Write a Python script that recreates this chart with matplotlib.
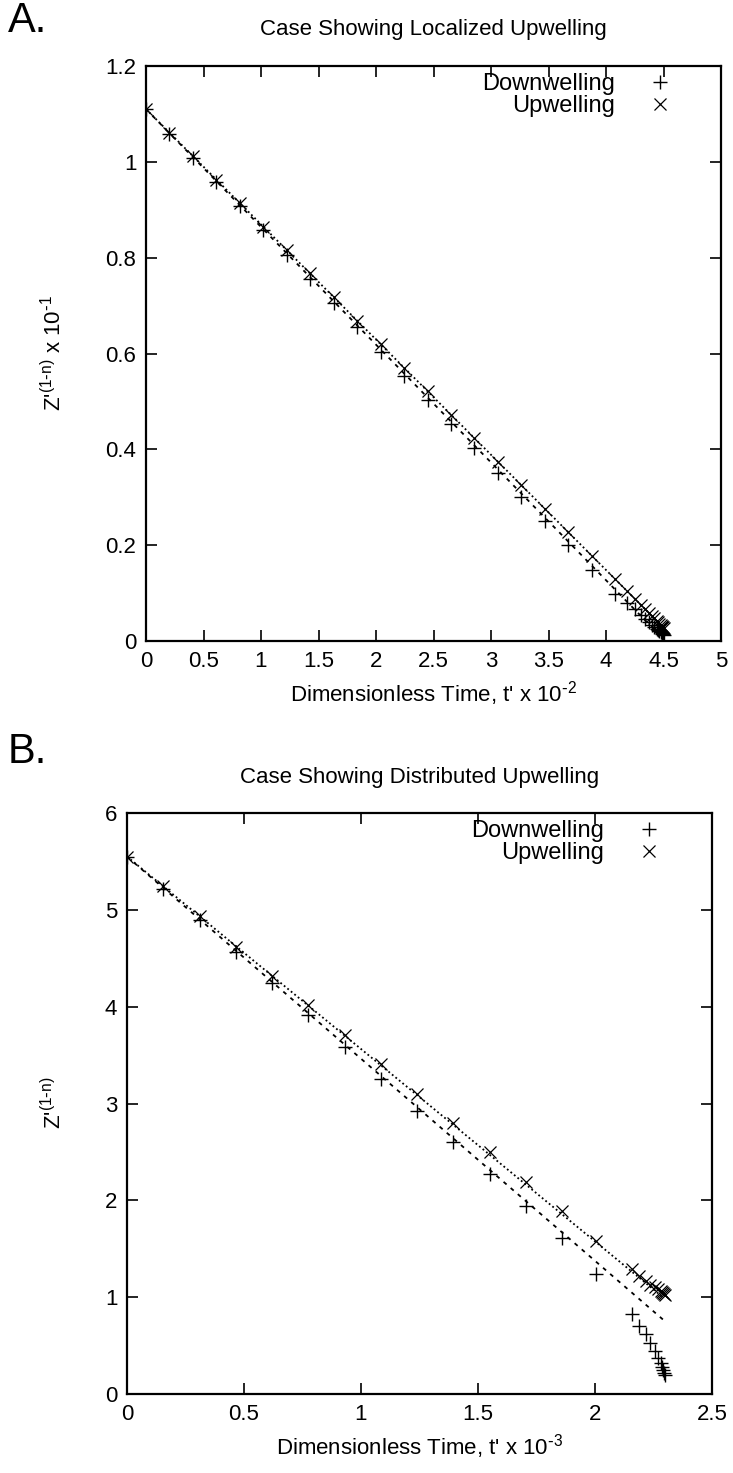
import matplotlib
matplotlib.use("Agg")
import matplotlib.pyplot as plt

plt.rcParams['font.family'] = ['Liberation Sans', 'DejaVu Sans']
plt.rcParams['mathtext.default'] = 'regular'

# ---------------- Panel A data ----------------
a_time = [0.0, 0.204, 0.408, 0.612, 0.816, 1.02, 1.224, 1.428, 1.632, 1.836,
          2.04, 2.244, 2.448, 2.652, 2.856, 3.06, 3.264, 3.468, 3.672, 3.876,
          4.08, 4.18, 4.25, 4.3, 4.34, 4.37, 4.40, 4.42, 4.44, 4.455,
          4.465, 4.475, 4.483, 4.49, 4.495, 4.5]
a_down = [1.11, 1.059, 1.009, 0.958, 0.908, 0.857, 0.806, 0.756, 0.705, 0.655,
          0.604, 0.553, 0.503, 0.452, 0.402, 0.351, 0.301, 0.25, 0.2, 0.149,
          0.099, 0.08, 0.066, 0.055, 0.046, 0.04, 0.034, 0.03, 0.026, 0.023,
          0.021, 0.019, 0.017, 0.015, 0.014, 0.013]
a_up = [1.11, 1.061, 1.012, 0.963, 0.914, 0.865, 0.816, 0.767, 0.717, 0.668,
        0.619, 0.57, 0.521, 0.472, 0.423, 0.374, 0.325, 0.276, 0.227, 0.178,
        0.129, 0.105, 0.088, 0.076, 0.066, 0.059, 0.052, 0.047, 0.042, 0.039,
        0.036, 0.034, 0.032, 0.03, 0.029, 0.028]
a_fit_t = [0.0, 4.5]
a_fit_down = [1.11, 0.004]
a_fit_up = [1.11, 0.028]

# ---------------- Panel B data ----------------
b_time = [0.0, 0.155, 0.31, 0.465, 0.62, 0.775, 0.93, 1.085, 1.24, 1.395,
          1.55, 1.705, 1.86, 2.005, 2.157, 2.19, 2.218, 2.235, 2.256, 2.27,
          2.28, 2.287, 2.292, 2.296, 2.3]
b_down = [5.55, 5.22, 4.89, 4.56, 4.24, 3.91, 3.58, 3.25, 2.92, 2.6,
          2.27, 1.94, 1.61, 1.24, 0.83, 0.7, 0.62, 0.53, 0.44, 0.37,
          0.32, 0.28, 0.25, 0.22, 0.2]
b_up = [5.55, 5.25, 4.94, 4.62, 4.32, 4.02, 3.71, 3.41, 3.1, 2.8,
        2.5, 2.19, 1.89, 1.58, 1.29, 1.22, 1.17, 1.13, 1.1, 1.08,
        1.06, 1.05, 1.04, 1.03, 1.02]
b_fit_t = [0.0, 2.29]
b_fit_down = [5.55, 0.77]
b_fit_up = [5.55, 1.0]

# ---------------- Axis settings ----------------
a_xticks = [0, 0.5, 1, 1.5, 2, 2.5, 3, 3.5, 4, 4.5, 5]
a_xticklabels = ['0', '0.5', '1', '1.5', '2', '2.5', '3', '3.5', '4', '4.5', '5']
a_yticks = [0, 0.2, 0.4, 0.6, 0.8, 1.0, 1.2]
a_yticklabels = ['0', '0.2', '0.4', '0.6', '0.8', '1', '1.2']
b_xticks = [0, 0.5, 1, 1.5, 2, 2.5]
b_xticklabels = ['0', '0.5', '1', '1.5', '2', '2.5']
b_yticks = [0, 1, 2, 3, 4, 5, 6]
b_yticklabels = ['0', '1', '2', '3', '4', '5', '6']

FS = 16
W, H = 733, 1473

fig = plt.figure(figsize=(W / 100, H / 100), dpi=100)


def rect(left, right, top, bottom):
    return [left / W, 1 - bottom / H, (right - left) / W, (bottom - top) / H]


axA = fig.add_axes(rect(146, 721, 66, 641))
axB = fig.add_axes(rect(127, 712, 813, 1394))


def style(ax, xt, xtl, yt, ytl, xlim, ylim):
    ax.set_xlim(*xlim)
    ax.set_ylim(*ylim)
    ax.set_xticks(xt)
    ax.set_xticklabels(xtl)
    ax.set_yticks(yt)
    ax.set_yticklabels(ytl)
    ax.tick_params(direction='in', length=8, width=1.2, top=True, right=True,
                   labelsize=FS, pad=7, color='black')
    for s in ax.spines.values():
        s.set_linewidth(1.6)


def legend(ax, anchor_x):
    ax.legend(loc='upper right', frameon=False, markerfirst=False, fontsize=FS + 1,
              handletextpad=1.2, borderaxespad=0.0, labelspacing=0.0,
              handlelength=1.4, borderpad=0.3, bbox_to_anchor=(anchor_x, 1.0))


yl = "Z'$^{(1\\text{-}n)}$"

# Panel A
axA.plot(a_fit_t, a_fit_up, color='black', lw=1.3, ls=(0, (1, 1.5)))
axA.plot(a_fit_t, a_fit_down, color='black', lw=1.3, ls=(0, (2.2, 3)))
axA.plot(a_time, a_down, ls='none', marker='+', ms=10, mew=1.0, color='black', label='Downwelling')
axA.plot(a_time, a_up, ls='none', marker='x', ms=9, mew=0.9, color='black', label='Upwelling')
style(axA, a_xticks, a_xticklabels, a_yticks, a_yticklabels, (0, 5), (0, 1.2))
axA.set_xlabel("Dimensionless Time, t' x 10$^{\\text{-}2}$", fontsize=FS, labelpad=5)
legend(axA, 0.935)
fig.text(54 / W, 1 - 353 / H, yl + " x 10$^{\\text{-}1}$", fontsize=FS, rotation=90,
         ha='center', va='center')
fig.text((146 + 721) / 2 / W, 1 - 30 / H, 'Case Showing Localized Upwelling',
         fontsize=FS, ha='center', va='center')
fig.text(8 / W, 1 - 21 / H, 'A.', fontsize=30, ha='left', va='center')

# Panel B
axB.plot(b_fit_t, b_fit_up, color='black', lw=1.3, ls=(0, (1, 1.5)))
axB.plot(b_fit_t, b_fit_down, color='black', lw=1.3, ls=(0, (2.2, 3)))
axB.plot(b_time, b_down, ls='none', marker='+', ms=10, mew=1.0, color='black', label='Downwelling')
axB.plot(b_time, b_up, ls='none', marker='x', ms=9, mew=0.9, color='black', label='Upwelling')
style(axB, b_xticks, b_xticklabels, b_yticks, b_yticklabels, (0, 2.5), (0, 6))
axB.set_xlabel("Dimensionless Time, t' x 10$^{\\text{-}3}$", fontsize=FS, labelpad=5)
legend(axB, 0.933)
fig.text(54 / W, 1 - 1103 / H, yl, fontsize=FS, rotation=90,
         ha='center', va='center')
fig.text((127 + 712) / 2 / W, 1 - 778 / H, 'Case Showing Distributed Upwelling',
         fontsize=FS, ha='center', va='center')
fig.text(8 / W, 1 - 752 / H, 'B.', fontsize=30, ha='left', va='center')

fig.savefig('out.png', dpi=100)
